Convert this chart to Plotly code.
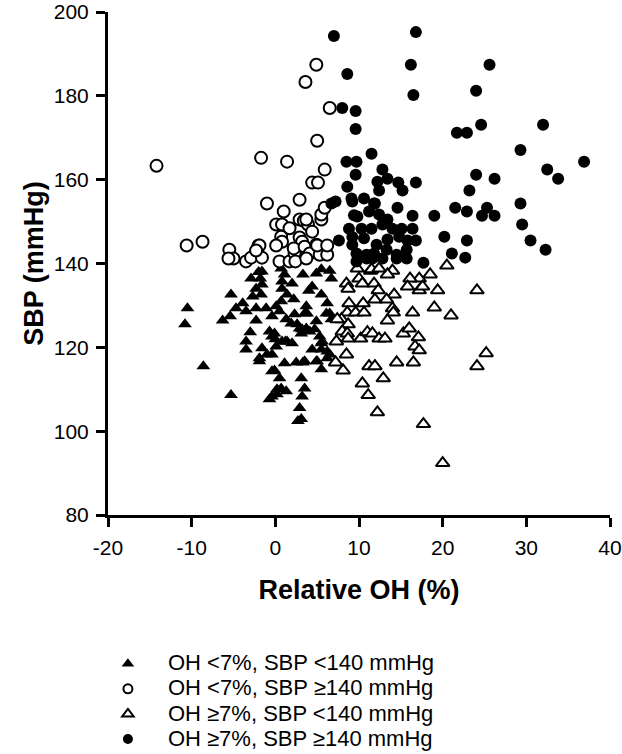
import plotly.graph_objects as go

# OH <7%, SBP <140 mmHg (filled triangles)
ft_x = [-10.5, -10.8, -8.6, -5.3, -5.3, -6.3, -5.4, -4.7, -3.9, -3.5, -2.9, -2.3, -2.7, -2.3, -2.3, -3.0, -3.5, -3.5,
        -1.8, -1.6, -1.6, -1.7, -1.1, -0.4, -0.7, -0.1, -1.6, -1.9, -1.0, -0.4, 0.0, 0.7, 1.1, 0.8, 0.8, 1.4, 2.0,
        0.1, 0.5, 1.4, 0.8, -0.4, 0.5, 0.7, 0.2, -0.7, 1.3, 2.5, 3.3, 3.1, 3.5, 3.2, 2.9, 2.7, 3.3, 4.4, 4.9, 5.5,
        6.5, 6.7, 5.5, 6.2, 3.7, 3.8, 4.9, 6.5, 1.9, 2.9, 4.1, 5.3, 5.6, 4.4, 5.5, 6.2, 5.0, 5.5, 6.5, -0.4, 1.3,
        3.5, 6.1, 6.7, 4.7, 3.2, 5.5, 6.2, 3.5, 4.9, 3.1, 2.3, 2.6, 3.1, 3.7, 1.2, 2.0, 1.1, -0.1, 0.2, -0.4, 0.1,
        -1.9, 0.7, 2.2, 4.0, -2.0]
ft_y = [129.3, 125.5, 115.5, 108.6, 132.6, 126.4, 127.4, 129.3, 130.5, 128.6, 136.4, 134.0, 132.1, 129.3, 126.4, 123.6, 121.4, 119.5,
        136.4, 138.1, 135.0, 132.6, 129.3, 127.4, 123.8, 123.3, 119.8, 117.4, 118.3, 118.3, 121.9, 138.8, 137.4, 135.7, 134.0, 132.6, 135.2,
        129.8, 128.6, 121.4, 121.4, 114.3, 112.6, 110.2, 108.8, 107.6, 109.5, 116.4, 116.4, 112.6, 110.2, 108.3, 105.5, 102.4, 137.4, 134.5, 137.6, 138.6,
        138.3, 136.4, 132.6, 130.5, 129.8, 128.1, 126.2, 128.1, 125.7, 124.5, 123.8, 122.6, 121.4, 119.5, 119.5, 119.0, 116.7, 114.8, 118.3, 122.6, 126.7,
        128.1, 128.1, 126.7, 124.3, 124.3, 121.0, 117.4, 116.7, 116.7, 102.9, 127.9, 125.5, 123.3, 124.5, 121.4, 121.0, 116.2, 114.5, 110.0, 108.3, 120.2,
        116.7, 131.0, 131.5, 133.5, 138.0]

# OH <7%, SBP >=140 mmHg (open circles)
oc_x = [-14.2, -1.7, 1.4, 4.9, 3.6, 6.5, 5.0, 5.9, 4.4, 5.1, -1.0, 2.9, 1.0, 0.1, 0.8, 1.7, 2.9, 3.4, 3.9, 4.4,
        5.5, 5.5, 5.9, -10.6, -8.7, 2.9, 3.2, 0.7, 0.8, 0.1, -2.0, -2.2, -5.5, -5.0, -5.6, -3.5, -2.9, -1.6, 0.5, 1.7,
        2.3, 2.2, 2.4, 3.7, 3.5, 4.9, 4.1, 5.3, 6.2, 3.7, 5.0, 6.2, -1.9, -2.3]
oc_y = [163.3, 165.2, 164.3, 187.4, 183.3, 177.1, 169.3, 162.4, 159.3, 159.3, 154.3, 155.2, 152.4, 149.3, 149.3, 148.4, 150.5, 150.2, 149.3, 147.6,
        150.5, 151.7, 153.3, 144.3, 145.2, 146.2, 145.2, 146.4, 145.2, 144.3, 144.3, 143.1, 143.3, 141.2, 141.2, 140.5, 141.4, 141.4, 140.5, 140.5,
        142.4, 143.6, 140.5, 150.5, 144.0, 144.5, 142.4, 142.1, 142.1, 141.2, 144.3, 144.3, 144.3, 143.1]

# OH >=7%, SBP <140 mmHg (open triangles)
ot_x = [20.5, 24.1, 25.2, 24.1, 21.0, 19.0, 19.4, 18.5, 17.2, 16.1, 15.8, 17.2, 17.6, 14.0, 13.4, 11.4, 10.0, 10.4, 8.5, 8.7,
        11.8, 12.3, 14.2, 11.9, 13.3, 14.0, 14.1, 16.4, 8.8, 10.5, 8.6, 9.6, 10.6, 7.9, 13.4, 8.7, 8.0, 8.6, 8.7, 10.2,
        11.0, 11.6, 12.4, 13.1, 15.3, 16.0, 17.1, 16.7, 17.2, 8.5, 8.1, 11.2, 11.9, 14.5, 16.5, 10.4, 12.9, 11.1, 12.2, 17.7,
        20.0, 7.2, 7.3, 7.4, 9.8, 11.5, 12.4]
ot_y = [139.5, 133.6, 118.6, 115.5, 127.6, 129.5, 133.6, 137.4, 136.4, 136.4, 134.5, 133.6, 134.5, 138.3, 137.4, 138.3, 136.4, 135.2, 135.2, 134.0,
        135.2, 133.6, 132.6, 131.4, 131.4, 129.3, 128.3, 128.3, 130.5, 130.5, 128.3, 128.3, 128.3, 126.7, 126.4, 125.5, 123.8, 123.3, 122.1, 122.1,
        123.6, 123.3, 122.1, 122.1, 123.3, 124.5, 122.4, 120.2, 119.3, 118.3, 114.5, 115.5, 115.5, 116.4, 116.4, 111.4, 112.6, 108.6, 104.5, 101.7,
        92.4, 116.4, 121.4, 126.7, 138.8, 138.6, 138.8]

# OH >=7%, SBP >=140 mmHg (filled circles)
fc_x = [7.0, 16.8, 8.6, 16.2, 25.6, 16.5, 8.0, 9.6, 9.6, 24.0, 24.6, 32.0, 21.7, 22.9, 11.5, 29.3, 8.5, 9.7, 36.9, 9.6,
        12.8, 13.4, 24.0, 26.2, 32.5, 33.8, 8.6, 12.2, 12.4, 14.7, 15.2, 16.8, 23.2, 29.3, 9.1, 10.6, 11.9, 14.6, 16.4, 19.0,
        21.5, 22.9, 25.3, 24.7, 26.2, 29.5, 20.2, 22.9, 30.5, 32.3, 21.1, 22.7, 6.7, 7.2, 9.2, 11.8, 9.8, 11.2, 12.4, 13.4,
        8.8, 10.3, 11.5, 12.8, 14.0, 15.1, 16.4, 7.6, 9.2, 10.6, 12.1, 13.4, 14.8, 15.8, 16.8, 9.7, 10.9, 11.8, 13.3, 14.5,
        15.7, 9.7, 10.9, 11.6, 12.8, 14.5, 15.7, 17.7, 9.2, 9.4]
fc_y = [194.3, 195.2, 185.2, 187.4, 187.4, 180.2, 177.1, 176.4, 172.1, 181.2, 173.1, 173.1, 171.2, 171.2, 166.2, 167.1, 164.3, 164.3, 164.3, 161.2,
        162.4, 160.2, 161.2, 160.2, 162.4, 160.2, 158.3, 159.5, 157.4, 159.3, 157.4, 159.3, 157.4, 154.3, 155.5, 155.5, 154.3, 153.3, 151.4, 151.4,
        153.3, 152.4, 153.3, 151.4, 151.4, 149.3, 146.4, 145.5, 145.5, 143.3, 142.4, 141.4, 154.3, 154.8, 154.8, 154.3, 151.2, 152.4, 151.7, 150.5,
        148.3, 148.3, 148.3, 149.3, 148.3, 148.3, 148.3, 145.5, 144.5, 146.0, 144.5, 145.7, 146.4, 145.5, 145.5, 142.4, 142.1, 142.4, 143.3, 142.1,
        143.3, 140.5, 141.2, 141.2, 141.2, 141.2, 141.2, 140.2, 146.3, 151.5]

x_ticks = [-20, -10, 0, 10, 20, 30, 40]
x_tick_labels = ["-20", "-10", "0", "10", "20", "30", "40"]
y_ticks = [80, 100, 120, 140, 160, 180, 200]

legend_names = ["OH <7%, SBP <140 mmHg", "OH <7%, SBP ≥140 mmHg",
                "OH ≥7%, SBP <140 mmHg", "OH ≥7%, SBP ≥140 mmHg"]

FONT = "Arial, Liberation Sans, sans-serif"
fig = go.Figure()

def tri(x, y, fill):
    return go.Scatter(x=x, y=y, mode="markers", showlegend=False, hoverinfo="skip",
                      marker=dict(symbol="triangle-up", size=12, color=fill,
                                  line=dict(color="black", width=2 if fill == "white" else 0)))

def circ(x, y, fill):
    return go.Scatter(x=x, y=y, mode="markers", showlegend=False, hoverinfo="skip",
                      marker=dict(symbol="circle", size=12, color=fill,
                                  line=dict(color="black", width=2 if fill == "white" else 0)))

fig.add_trace(tri(ft_x, ft_y, "black"))
fig.add_trace(tri(ot_x, ot_y, "white"))
fig.add_trace(circ(oc_x, oc_y, "white"))
fig.add_trace(circ(fc_x, fc_y, "black"))

# legend-only entries with smaller symbols
leg_specs = [("triangle-up", "black", 0, 11), ("circle", "white", 2, 9),
             ("triangle-up", "white", 2, 10), ("circle", "black", 0, 10)]
for name, (sym, fill, lw, sz) in zip(legend_names, leg_specs):
    fig.add_trace(go.Scatter(x=[None], y=[None], mode="markers",
                             name='<span style="font-size:22px">' + name + '</span>',
                             marker=dict(symbol=sym, size=sz, color=fill,
                                         line=dict(color="black", width=lw))))

fig.update_layout(
    width=622, height=754,
    margin=dict(l=108, r=12, t=12, b=239),
    plot_bgcolor="white", paper_bgcolor="white",
    font=dict(family=FONT, color="black", size=21),
    legend=dict(xref="paper", yref="container", x=-0.04, y=0.143,
                xanchor="left", yanchor="top",
                font=dict(size=17, family=FONT), itemwidth=70,
                tracegroupgap=0, bgcolor="rgba(0,0,0,0)"),
)
fig.update_xaxes(range=[-20, 40], tickvals=x_ticks, ticktext=x_tick_labels,
                 showline=True, linecolor="black", linewidth=3, mirror=False,
                 ticks="outside", ticklen=9, tickwidth=2.5, tickcolor="black",
                 showgrid=False, zeroline=False, ticklabelstandoff=3,
                 ticklabeloverflow="allow", automargin=False,
                 tickfont=dict(size=21, family=FONT),
                 title=dict(text="<b>Relative OH (%)</b>", font=dict(size=27, family=FONT), standoff=22))
fig.update_yaxes(range=[80, 200], tickvals=y_ticks,
                 showline=True, linecolor="black", linewidth=3, mirror=False,
                 ticks="outside", ticklen=9, tickwidth=2.5, tickcolor="black",
                 showgrid=False, zeroline=False, ticklabelstandoff=3,
                 ticklabeloverflow="allow", automargin=False,
                 tickfont=dict(size=21, family=FONT),
                 title=dict(text="<b>SBP (mmHg)</b>", font=dict(size=27, family=FONT), standoff=3))

fig.write_html("out.html", config={"displayModeBar": False},
               post_script="document.body.style.margin='0';")
